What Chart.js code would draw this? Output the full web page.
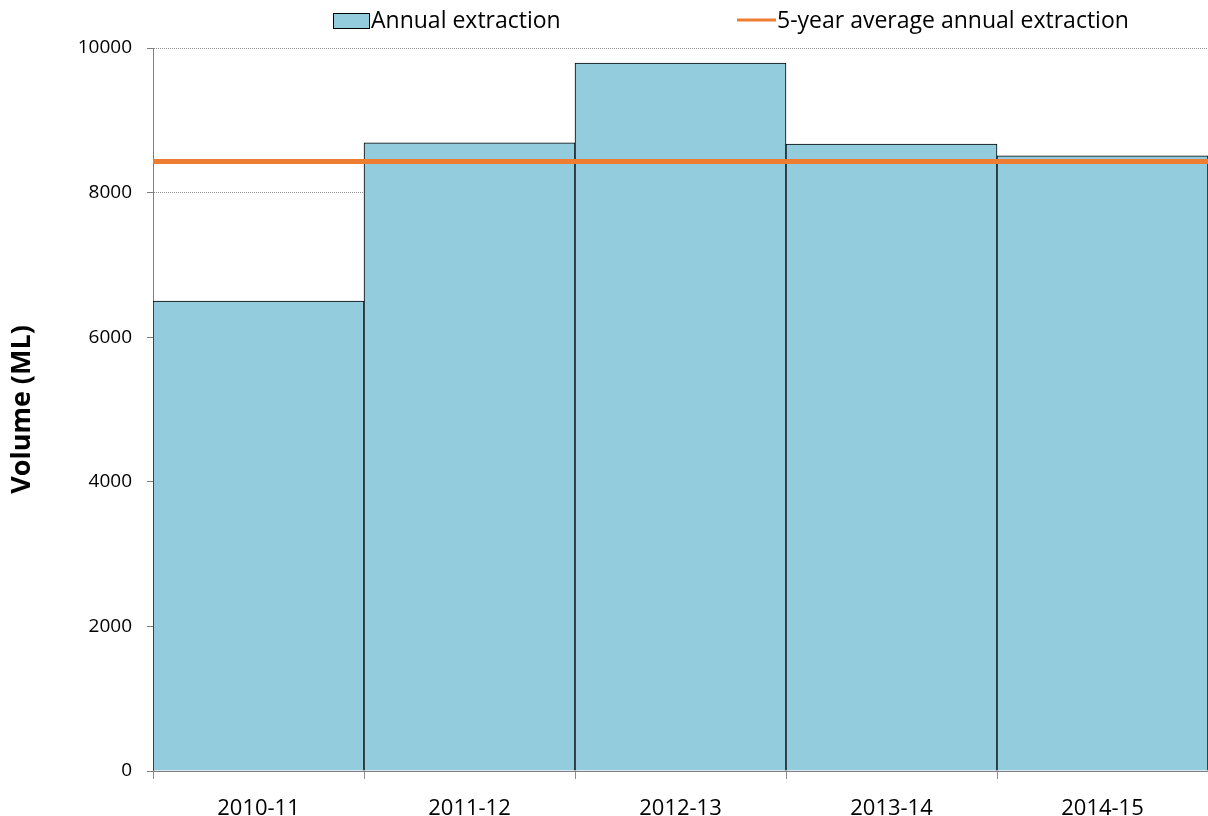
<!DOCTYPE html>
<html>
<head>
<meta charset="utf-8">
<title>Annual extraction</title>
<script src="https://cdn.jsdelivr.net/npm/chart.js@4"></script>
<style>
  html, body { margin: 0; padding: 0; background: #fff; }
  #wrap { width: 1208px; height: 816px; position: relative; }
</style>
</head>
<body>
<div id="wrap"><canvas id="extractionChart"></canvas></div>
<script>
// ── Data ──
const years = ['2010-11', '2011-12', '2012-13', '2013-14', '2014-15'];
const annualExtraction = [6500, 8690, 9790, 8670, 8510];
const fiveYearAverage = 8430;
const yTicks = [0, 2000, 4000, 6000, 8000, 10000];

const FONT = "'Open Sans', 'Liberation Sans', sans-serif";

// ── Legend drawn by hand (Excel style, off-centre) ──
const legendPlugin = {
  id: 'excelLegend',
  afterDraw(chart) {
    const ctx = chart.ctx;
    const [bars, line] = chart.data.datasets;
    ctx.save();
    ctx.font = `23px ${FONT}`;
    ctx.textBaseline = 'middle';

    // bar swatch
    ctx.fillStyle = bars.backgroundColor;
    ctx.fillRect(333.5, 13.5, 36, 15);
    ctx.strokeStyle = '#000';
    ctx.lineWidth = 1;
    ctx.strokeRect(333.5, 13.5, 36, 15);
    ctx.fillStyle = '#000';
    ctx.fillText(bars.label, 371, 21);

    // line swatch
    ctx.strokeStyle = line.borderColor;
    ctx.lineWidth = 3;
    ctx.beginPath();
    ctx.moveTo(737, 20);
    ctx.lineTo(776, 20);
    ctx.stroke();
    ctx.fillText(line.label, 777, 21);
    ctx.restore();
  }
};

const ctx = document.getElementById('extractionChart').getContext('2d');
new Chart(ctx, {
  type: 'bar',
  data: {
    labels: years,
    datasets: [
      {
        type: 'bar',
        label: 'Annual extraction',
        data: annualExtraction,
        backgroundColor: '#93CDDD',
        borderColor: '#000000',
        borderWidth: 1,
        barPercentage: 1,
        categoryPercentage: 1,
        grouped: false,
        order: 1
      },
      {
        type: 'line',
        label: '5-year average annual extraction',
        data: [{ x: 0, y: fiveYearAverage }, { x: years.length, y: fiveYearAverage }],
        xAxisID: 'xLine',
        borderColor: '#ED7D31',
        borderWidth: 5,
        pointRadius: 0,
        fill: false,
        order: 0
      }
    ]
  },
  options: {
    responsive: true,
    maintainAspectRatio: false,
    animation: false,
    layout: { padding: { top: 48, right: 0, left: 0, bottom: 0 } },
    plugins: {
      legend: { display: false },
      tooltip: { enabled: false }
    },
    scales: {
      x: {
        type: 'category',
        offset: true,
        grid: {
          offset: true,
          drawOnChartArea: false,
          tickLength: 8,
          tickColor: '#8c8c8c'
        },
        border: { color: '#7f7f7f', width: 1 },
        ticks: {
          color: '#000',
          font: { family: FONT, size: 22 },
          padding: 17
        },
        afterFit(scale) { scale.height = 45; }
      },
      xLine: {
        type: 'linear',
        display: false,
        offset: false,
        min: 0,
        max: years.length
      },
      y: {
        min: 0,
        max: 10000,
        afterBuildTicks(scale) { scale.ticks = yTicks.map(v => ({ value: v })); },
        grid: {
          color: '#8f8f8f',
          tickColor: '#7f7f7f',
          tickLength: 6,
          tickBorderDash: [],
          lineWidth: 1
        },
        border: { color: '#7f7f7f', width: 1, dash: [1, 1] },
        ticks: {
          color: '#000',
          font: { family: FONT, size: 19 },
          padding: 15,
          callback: v => String(v)
        },
        title: {
          display: true,
          text: 'Volume (ML)',
          color: '#000',
          font: { family: FONT, size: 27, weight: 'bold' },
          padding: { top: 6, bottom: 0 }
        },
        afterFit(scale) { scale.width = 153; }
      }
    }
  },
  plugins: [legendPlugin]
});
</script>
</body>
</html>
